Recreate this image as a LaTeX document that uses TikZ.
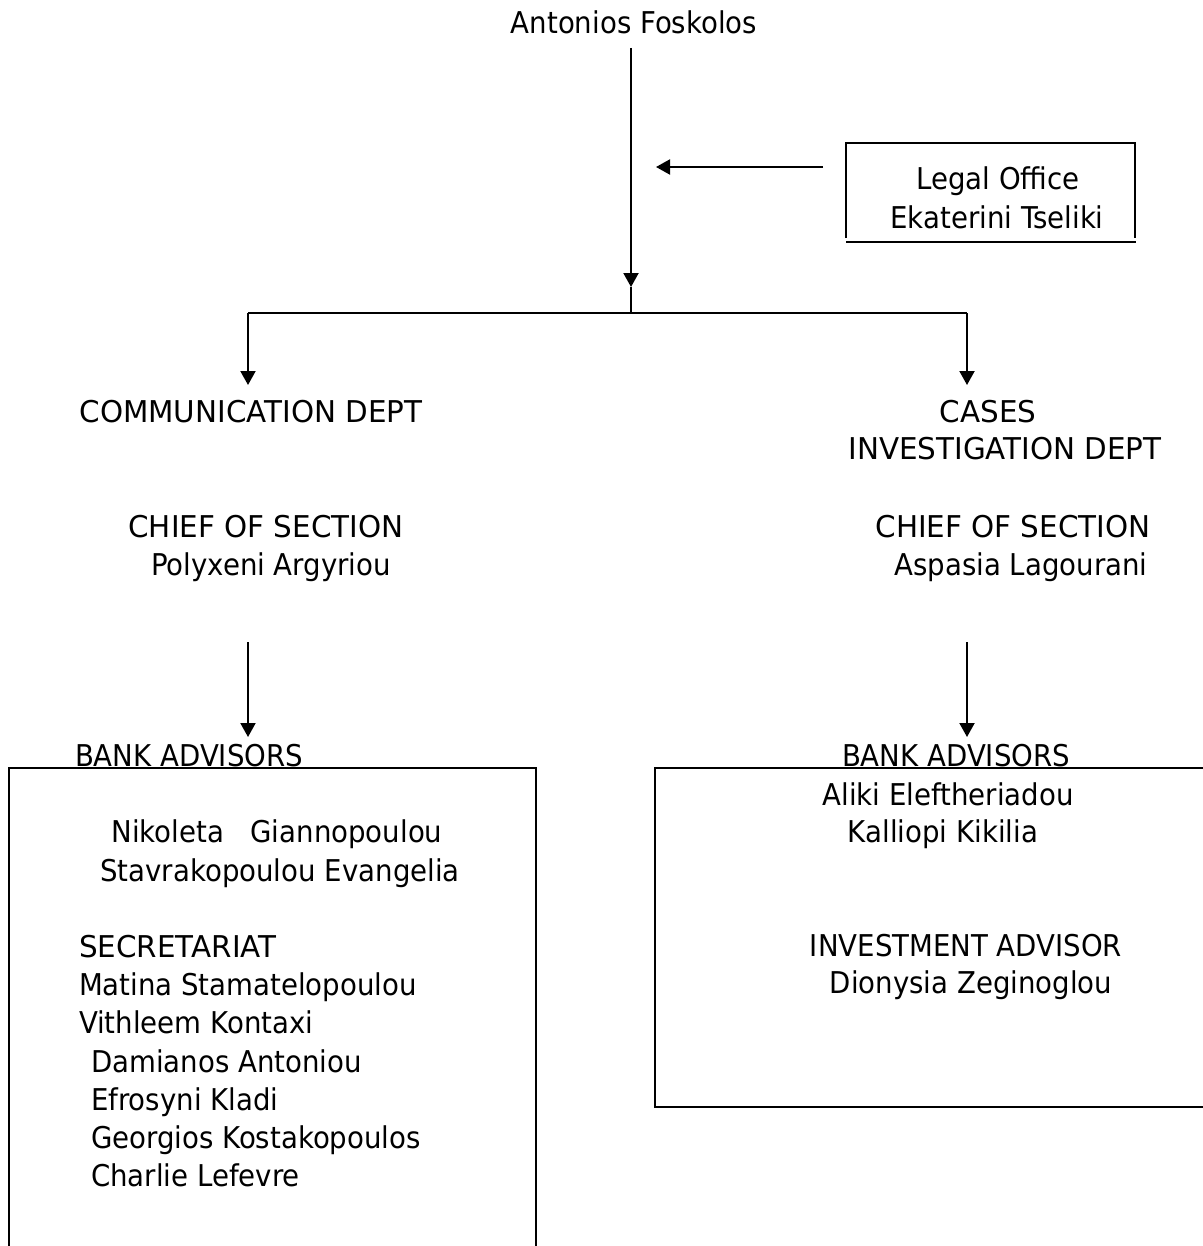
\documentclass[tikz,border=0pt]{standalone}
\usepackage{fontspec}
\setmainfont[FakeStretch = 0.98]{DejaVu Sans}
\newfontfamily\personfont[FakeStretch = 0.92]{DejaVu Sans}
\usetikzlibrary{arrows.meta}

\begin{document}
\begin{tikzpicture}[%
        x = 0.5pt,
        y = -0.5pt,
        line width = 1pt,
        > = {Triangle[length = 7pt, width = 7.5pt]},
        every node/.style = {%
            font = \fontsize{15pt}{19pt}\selectfont,
            inner sep = 0pt
        },
        orgtext/.style = {anchor = base},
        orgname/.style = {%
            anchor = base,
            font = \personfont\fontsize{15pt}{19pt}\selectfont
        },
        orgitem/.style = {%
            anchor = base west,
            font = \personfont\fontsize{15pt}{19pt}\selectfont
        },
        orgarrow/.style = {%
            draw = black,
            ->
        }
    ]
        \useasboundingbox (0, 0) rectangle (1203, 1246);
        % head and legal office
        \node[orgname] (boss) at (634, 34) {Antonios Foskolos};
        \node[orgname] (legal) at (998, 190) {Legal Office};
        \node[orgname] (legalname) at (997, 228) {Ekaterini Tseliki};
        \draw (846, 238) -- (846, 143) -- (1135, 143) -- (1135, 238);
        \draw (846, 242) -- (1136, 242);
        % departments
        \node[orgtext] (comm) at (251, 422) {COMMUNICATION DEPT};
        \node[orgtext] (cases) at (988, 422) {CASES};
        \node[orgtext] (invdept) at (1005, 459) {INVESTIGATION DEPT};
        \node[orgtext] (chiefcomm) at (266, 537) {CHIEF OF SECTION};
        \node[orgname] (polyxeni) at (271, 575) {Polyxeni Argyriou};
        \node[orgtext] (chiefcases) at (1013, 537) {CHIEF OF SECTION};
        \node[orgname] (aspasia) at (1021, 575) {Aspasia Lagourani};
        % advisors
        \node[orgname] (bankcomm) at (189, 766) {BANK ADVISORS};
        \node[orgname] (bankcases) at (956, 766) {BANK ADVISORS};
        \draw (9, 1246) -- (9, 768) -- (536, 768) -- (536, 1246);
        \draw (1203, 768) -- (655, 768) -- (655, 1107) -- (1203, 1107);
        \node[orgname] (nikoleta) at (277, 842) {Nikoleta\ \ \ Giannopoulou};
        \node[orgname] (stavrak) at (280, 881) {Stavrakopoulou Evangelia};
        \node[orgitem, font = \fontsize{15pt}{19pt}\selectfont] (secretariat) at (78, 957) {SECRETARIAT};
        \node[orgitem] (matina) at (78, 995) {Matina Stamatelopoulou};
        \node[orgitem] (vithleem) at (78, 1033) {Vithleem Kontaxi};
        \node[orgitem] (damianos) at (90, 1072) {Damianos Antoniou};
        \node[orgitem] (efrosyni) at (90, 1110) {Efrosyni Kladi};
        \node[orgitem] (georgios) at (90, 1148) {Georgios Kostakopoulos};
        \node[orgitem] (charlie) at (90, 1186) {Charlie Lefevre};
        \node[orgname] (aliki) at (948, 805) {Aliki Eleftheriadou};
        \node[orgname] (kalliopi) at (943, 842) {Kalliopi Kikilia};
        \node[orgname] (investadv) at (966, 956) {INVESTMENT ADVISOR};
        \node[orgname] (dionysia) at (971, 993) {Dionysia Zeginoglou};
        % connectors
        \coordinate (bosstail) at (631, 48);
        \coordinate (mainhead) at (631, 287);
        \coordinate (split) at (631, 313);
        \coordinate (legaltail) at (823, 167);
        \coordinate (legalhead) at (656, 167);
        \coordinate (commhead) at (248, 385);
        \coordinate (caseshead) at (967, 385);
        \coordinate (commtail) at (248, 642);
        \coordinate (commadv) at (248, 737);
        \coordinate (casestail) at (967, 642);
        \coordinate (casesadv) at (967, 737);
        \draw[orgarrow] (bosstail) -- (mainhead);
        \draw (mainhead) -- (split);
        \draw[orgarrow] (legaltail) -- (legalhead);
        \draw (commhead |- split) -- (caseshead |- split);
        \draw[orgarrow] (commhead |- split) -- (commhead);
        \draw[orgarrow] (caseshead |- split) -- (caseshead);
        \draw[orgarrow] (commtail) -- (commadv);
        \draw[orgarrow] (casestail) -- (casesadv);
    \end{tikzpicture}
\end{document}
